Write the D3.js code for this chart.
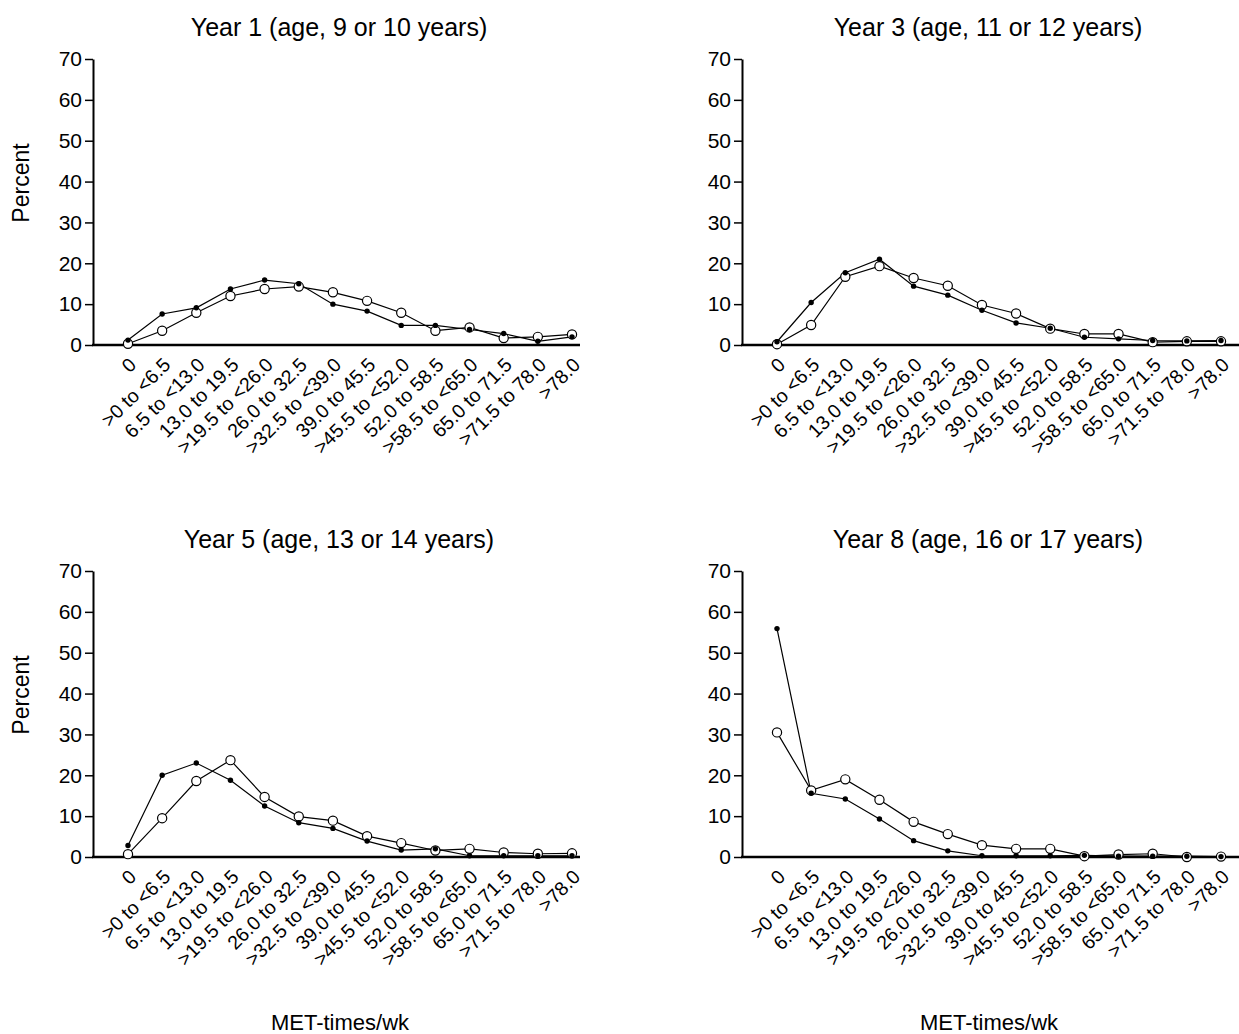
<!DOCTYPE html>
<html>
<head>
<meta charset="utf-8">
<script src="https://cdn.jsdelivr.net/npm/d3@7"></script>
<style>
  html, body { margin: 0; padding: 0; background: #fff; }
  text { font-family: "Liberation Sans", Arial, sans-serif; fill: #000; }
</style>
</head>
<body>
<svg id="chart" width="1239" height="1034"></svg>
<script>
const categories = ["0", ">0 to <6.5", "6.5 to <13.0", "13.0 to 19.5", ">19.5 to <26.0", "26.0 to 32.5",
  ">32.5 to <39.0", "39.0 to 45.5", ">45.5 to <52.0", "52.0 to 58.5", ">58.5 to <65.0",
  "65.0 to 71.5", ">71.5 to 78.0", ">78.0"];
const yTicks = [0, 10, 20, 30, 40, 50, 60, 70];
const panelTitles = ["Year 1 (age, 9 or 10 years)", "Year 3 (age, 11 or 12 years)",
  "Year 5 (age, 13 or 14 years)", "Year 8 (age, 16 or 17 years)"];

const year1Filled = [1.2, 7.6, 9.1, 13.7, 15.9, 15.0, 10.0, 8.3, 4.8, 4.8, 3.8, 2.8, 0.9, 2.0];
const year1Open   = [0.3, 3.5, 7.9, 12.0, 13.7, 14.3, 12.9, 10.8, 7.9, 3.5, 4.3, 1.7, 2.0, 2.6];
const year3Filled = [0.8, 10.4, 17.7, 21.0, 14.4, 12.2, 8.5, 5.4, 4.1, 1.9, 1.5, 1.1, 1.0, 1.1];
const year3Open   = [0.2, 4.9, 16.7, 19.3, 16.4, 14.5, 9.8, 7.7, 4.0, 2.7, 2.7, 0.7, 0.9, 0.9];
const year5Filled = [2.8, 20.0, 23.0, 18.8, 12.5, 8.4, 7.0, 3.9, 1.7, 2.0, 0.3, 0.3, 0.3, 0.3];
const year5Open   = [0.7, 9.5, 18.6, 23.7, 14.7, 9.9, 8.9, 5.1, 3.4, 1.6, 2.0, 1.1, 0.8, 0.9];
const year8Filled = [55.9, 15.6, 14.2, 9.3, 4.0, 1.5, 0.3, 0.3, 0.3, 0.4, 0.2, 0.2, 0.2, 0.1];
const year8Open   = [30.5, 16.3, 19.0, 14.0, 8.6, 5.6, 2.9, 2.0, 2.0, 0.2, 0.6, 0.8, 0.0, 0.1];

const panels = [
  { title: panelTitles[0], filled: year1Filled, open: year1Open, ox: 93,  oy: 345, axisEnd: 580, showY: true,  showX: false },
  { title: panelTitles[1], filled: year3Filled, open: year3Open, ox: 742, oy: 345, axisEnd: 1239, showY: false, showX: false },
  { title: panelTitles[2], filled: year5Filled, open: year5Open, ox: 93,  oy: 857, axisEnd: 580, showY: true,  showX: true },
  { title: panelTitles[3], filled: year8Filled, open: year8Open, ox: 742, oy: 857, axisEnd: 1239, showY: false, showX: true }
];

const svg = d3.select("#chart");
const plotH = 286;
const FONT = "Liberation Sans, Arial, sans-serif";

panels.forEach(p => {
  const g = svg.append("g");
  const x = d3.scalePoint().domain(categories).range([p.ox + 35, p.ox + 479]);
  const y = d3.scaleLinear().domain([0, 70]).range([p.oy, p.oy - plotH]);

  // y axis
  const yAxis = d3.axisLeft(y).tickValues(yTicks).tickSize(8).tickSizeOuter(0).tickPadding(3);
  const ya = g.append("g").attr("transform", `translate(${p.ox},0)`).call(yAxis);
  ya.select(".domain").attr("stroke-width", 2);
  ya.selectAll(".tick line").attr("stroke-width", 1.5);
  ya.selectAll(".tick text").style("font-size", "21px").style("font-family", FONT);

  // x axis
  const xAxis = d3.axisBottom(x).tickSize(0).tickPadding(0);
  const xa = g.append("g").attr("transform", `translate(0,${p.oy})`).call(xAxis);
  xa.select(".domain").remove();
  xa.append("line").attr("x1", p.ox - 1).attr("x2", p.axisEnd).attr("y1", 0).attr("y2", 0)
    .attr("stroke", "#000").attr("stroke-width", 2.5);
  xa.selectAll(".tick text")
    .style("font-size", "19.5px").style("font-family", FONT)
    .attr("text-anchor", "end")
    .attr("dy", 0).attr("y", 0)
    .attr("transform", "translate(9,21) rotate(-45)");

  const line = d3.line().x((d, i) => x(categories[i])).y(d => y(d));

  g.append("path").datum(p.open).attr("d", line).attr("fill", "none").attr("stroke", "#000").attr("stroke-width", 1.2);
  g.append("path").datum(p.filled).attr("d", line).attr("fill", "none").attr("stroke", "#000").attr("stroke-width", 1.2);

  g.selectAll("circle.open").data(p.open).enter().append("circle").attr("class", "open")
    .attr("cx", (d, i) => x(categories[i])).attr("cy", d => y(d)).attr("r", 4.6)
    .attr("fill", "#fff").attr("stroke", "#000").attr("stroke-width", 1.2);
  g.selectAll("circle.filled").data(p.filled).enter().append("circle").attr("class", "filled")
    .attr("cx", (d, i) => x(categories[i])).attr("cy", d => y(d)).attr("r", 2.7)
    .attr("fill", "#000");

  // title
  g.append("text").attr("x", p.ox + 246).attr("y", p.oy - 309)
    .attr("text-anchor", "middle").style("font-size", "25px").text(p.title);

  if (p.showY) {
    g.append("text").attr("transform", `translate(${p.ox - 64},${p.oy - 162}) rotate(-90)`)
      .attr("text-anchor", "middle").style("font-size", "23px").text("Percent");
  }
  if (p.showX) {
    g.append("text").attr("x", p.ox + 247).attr("y", p.oy + 173)
      .attr("text-anchor", "middle").style("font-size", "22px").text("MET-times/wk");
  }
});
</script>
</body>
</html>
